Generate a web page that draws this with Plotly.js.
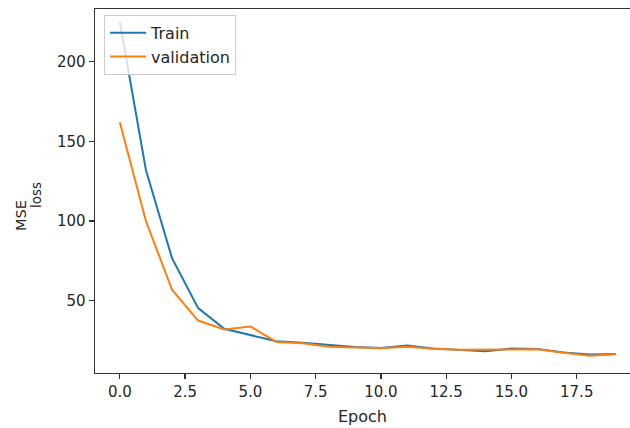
<!DOCTYPE html>
<html>
<head>
<meta charset="utf-8">
<script src="https://cdn.plot.ly/plotly-3.0.1.min.js"></script>
<style>
  html, body { margin: 0; padding: 0; background: #ffffff; }
  #chart { width: 630px; height: 428px; }
</style>
</head>
<body>
<div id="chart"></div>
<script>
// Training history: MSE loss per epoch
const epochs = [0, 1, 2, 3, 4, 5, 6, 7, 8, 9, 10, 11, 12, 13, 14, 15, 16, 17, 18, 19];
const trainLoss = [225, 132, 76.7, 45.4, 32.4, 28.6, 24.6, 23.6, 22.2, 21.0, 20.4, 22.0, 20.0, 19.0, 18.3, 20.0, 19.8, 17.6, 16.3, 16.6];
const valLoss = [162, 100, 56.9, 37.6, 32.0, 33.9, 24.2, 23.3, 21.2, 20.6, 20.3, 21.1, 19.9, 19.3, 19.3, 19.6, 19.6, 17.4, 15.5, 16.4];
const seriesNames = ['Train', 'validation'];
const xTickVals = [0, 2.5, 5, 7.5, 10, 12.5, 15, 17.5];
const xTickText = ['0.0', '2.5', '5.0', '7.5', '10.0', '12.5', '15.0', '17.5'];
const yTickVals = [50, 100, 150, 200];
const yLabelMain = 'MSE';
const yLabelSub = 'loss';

const font = 'DejaVu Sans, sans-serif';
const ink = '#262626';

// plot area in pixels (used to place the y label pieces)
const W = 630, H = 428;
const M = { l: 95, r: 0, t: 9, b: 55 };
const plotW = W - M.l - M.r, plotH = H - M.t - M.b;
const px2x = (px) => (px - M.l) / plotW;
const px2y = (py) => 1 - (py - M.t) / plotH;

const traces = [
  {
    x: epochs, y: trainLoss, name: seriesNames[0], type: 'scatter', mode: 'lines',
    line: { color: '#1f77b4', width: 2 }
  },
  {
    x: epochs, y: valLoss, name: seriesNames[1], type: 'scatter', mode: 'lines',
    line: { color: '#ff7f0e', width: 2 }
  }
];

const layout = {
  width: W,
  height: H,
  paper_bgcolor: '#ffffff',
  plot_bgcolor: '#ffffff',
  margin: M,
  font: { family: font, size: 15, color: ink },
  showlegend: true,
  legend: {
    x: 0.017, y: 0.984, xanchor: 'left', yanchor: 'top',
    bgcolor: 'rgba(255,255,255,0.8)',
    bordercolor: '#cccccc', borderwidth: 1,
    font: { family: font, size: 16, color: ink },
    itemwidth: 36,
    tracegroupgap: 0
  },
  xaxis: {
    range: [-0.95, 19.54],
    tickvals: xTickVals,
    ticktext: xTickText,
    ticks: 'outside', ticklen: 5, tickwidth: 1.2, tickcolor: '#333333',
    showline: true, linecolor: '#333333', linewidth: 1.4, mirror: true,
    showgrid: false, zeroline: false,
    tickfont: { family: font, size: 15, color: ink },
    title: { text: 'Epoch', font: { family: font, size: 16, color: ink }, standoff: 10 }
  },
  yaxis: {
    range: [4.7, 233],
    tickvals: yTickVals,
    ticks: 'outside', ticklen: 5, tickwidth: 1.2, tickcolor: '#333333',
    showline: true, linecolor: '#333333', linewidth: 1.4, mirror: false,
    showgrid: false, zeroline: false,
    tickfont: { family: font, size: 15, color: ink }
  },
  // y label: "MSE" with a large "loss" subscript, rotated
  annotations: [
    {
      text: yLabelMain, xref: 'paper', yref: 'paper',
      x: px2x(21), y: px2y(216), xanchor: 'center', yanchor: 'middle',
      textangle: -90, showarrow: false,
      font: { family: font, size: 14.5, color: ink }
    },
    {
      text: yLabelSub, xref: 'paper', yref: 'paper',
      x: px2x(36), y: px2y(195), xanchor: 'center', yanchor: 'middle',
      textangle: -90, showarrow: false,
      font: { family: font, size: 13.5, color: ink }
    }
  ]
};

Plotly.newPlot('chart', traces, layout, { displayModeBar: false, staticPlot: true });
</script>
</body>
</html>
